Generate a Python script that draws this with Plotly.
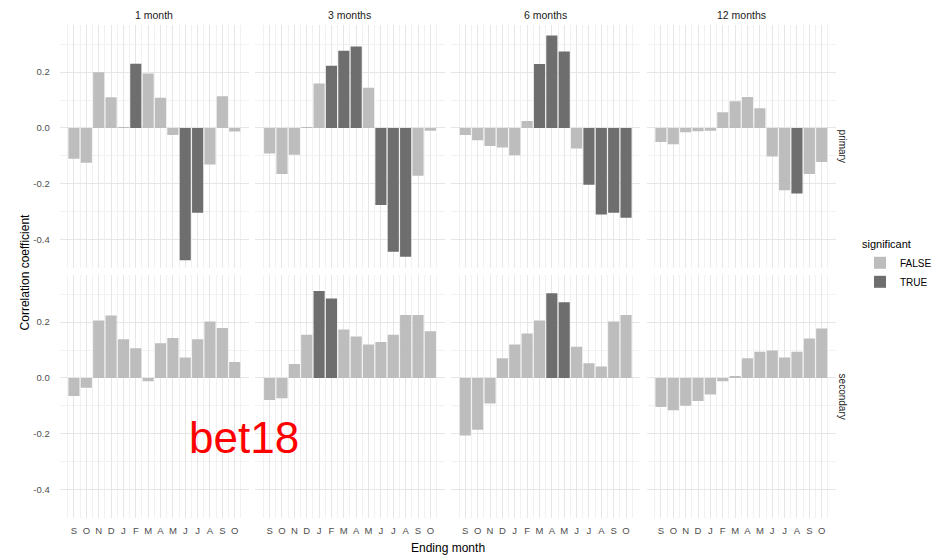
import plotly.graph_objects as go
from plotly.subplots import make_subplots

# Ending month of each correlation window (Sep .. Oct of the following year)
months = ["S", "O", "N", "D", "J", "F", "M", "A", "M", "J", "J", "A", "S", "O"]
windows = ["1 month", "3 months", "6 months", "12 months"]
groups = ["primary", "secondary"]

# Correlation coefficients, primary row
primary_1m = [-0.110, -0.125, 0.200, 0.110, 0.003, 0.230, 0.195, 0.108, -0.025, -0.474, -0.304, -0.131, 0.114, -0.013]
primary_3m = [-0.092, -0.165, -0.096, 0.003, 0.159, 0.223, 0.277, 0.292, 0.144, -0.276, -0.444, -0.462, -0.171, -0.010]
primary_6m = [-0.025, -0.044, -0.065, -0.070, -0.098, 0.025, 0.229, 0.331, 0.274, -0.074, -0.204, -0.310, -0.304, -0.322]
primary_12m = [-0.050, -0.058, -0.015, -0.012, -0.010, 0.056, 0.096, 0.111, 0.071, -0.102, -0.223, -0.235, -0.165, -0.122]

# Correlation coefficients, secondary row
secondary_1m = [-0.065, -0.035, 0.206, 0.224, 0.139, 0.106, -0.012, 0.124, 0.143, 0.073, 0.139, 0.202, 0.179, 0.057]
secondary_3m = [-0.079, -0.073, 0.050, 0.155, 0.312, 0.285, 0.174, 0.149, 0.120, 0.129, 0.155, 0.226, 0.226, 0.167]
secondary_6m = [-0.206, -0.186, -0.092, 0.071, 0.120, 0.159, 0.206, 0.304, 0.271, 0.112, 0.053, 0.041, 0.202, 0.226]
secondary_12m = [-0.104, -0.116, -0.100, -0.083, -0.059, -0.012, 0.006, 0.071, 0.094, 0.098, 0.073, 0.094, 0.141, 0.177]

# Significance flags (1 = significant)
sig_primary_1m = [0, 0, 0, 0, 0, 1, 0, 0, 0, 1, 1, 0, 0, 0]
sig_primary_3m = [0, 0, 0, 0, 0, 1, 1, 1, 0, 1, 1, 1, 0, 0]
sig_primary_6m = [0, 0, 0, 0, 0, 0, 1, 1, 1, 0, 1, 1, 1, 1]
sig_primary_12m = [0, 0, 0, 0, 0, 0, 0, 0, 0, 0, 0, 1, 0, 0]
sig_secondary_1m = [0, 0, 0, 0, 0, 0, 0, 0, 0, 0, 0, 0, 0, 0]
sig_secondary_3m = [0, 0, 0, 0, 1, 1, 0, 0, 0, 0, 0, 0, 0, 0]
sig_secondary_6m = [0, 0, 0, 0, 0, 0, 0, 1, 1, 0, 0, 0, 0, 0]
sig_secondary_12m = [0, 0, 0, 0, 0, 0, 0, 0, 0, 0, 0, 0, 0, 0]

y_ticks = [-0.4, -0.2, 0.0, 0.2]
y_tick_text = ["-0.4", "-0.2", "0.0", "0.2"]

values = [[primary_1m, primary_3m, primary_6m, primary_12m],
          [secondary_1m, secondary_3m, secondary_6m, secondary_12m]]
flags = [[sig_primary_1m, sig_primary_3m, sig_primary_6m, sig_primary_12m],
         [sig_secondary_1m, sig_secondary_3m, sig_secondary_6m, sig_secondary_12m]]

W, H = 937, 559
FONT = "Liberation Sans, Arial, sans-serif"
FILL = {False: "#BDBDBD", True: "#6E6E6E"}
panel_left = [60 + i * 196.5 for i in range(4)]
panel_w = 190
row_top = [25, 275]
panel_h = 243
x_range = [-1.15, len(months) - 1 + 1.15]
y_range = [-0.502, 0.369]

fig = make_subplots(rows=2, cols=4)

shown = set()
for r in range(2):
    for c in range(4):
        vals = values[r][c]
        sig = flags[r][c]
        for flag in (False, True):
            idx = [i for i in range(len(months)) if bool(sig[i]) == flag]
            name = "TRUE" if flag else "FALSE"
            fig.add_trace(
                go.Bar(
                    x=idx,
                    y=[vals[i] for i in idx],
                    width=0.9,
                    marker=dict(color=FILL[flag], line=dict(width=0)),
                    name=name,
                    legendgroup=name,
                    showlegend=name not in shown and len(idx) > 0,
                    hoverinfo="skip",
                ),
                row=r + 1, col=c + 1,
            )
            if len(idx) > 0:
                shown.add(name)

tick_font = dict(family=FONT, size=9.5, color="#4D4D4D")
for r in range(2):
    for c in range(4):
        k = r * 4 + c + 1
        sfx = "" if k == 1 else str(k)
        x0 = panel_left[c] / W
        x1 = (panel_left[c] + panel_w) / W
        y1 = 1 - row_top[r] / H
        y0 = 1 - (row_top[r] + panel_h) / H
        fig.layout["xaxis" + sfx].update(
            domain=[x0, x1], range=x_range,
            tickmode="array", tickvals=list(range(len(months))), ticktext=months,
            showticklabels=(r == 1), tickfont=tick_font, ticks="",
            ticklabelstandoff=5,
            showgrid=True, gridcolor="#E6E6E6", gridwidth=1,
            minor=dict(tickmode="array",
                       tickvals=[i + 0.5 for i in range(-1, len(months))],
                       showgrid=True, gridcolor="#F1F1F1", gridwidth=1, ticks=""),
            zeroline=False, showline=False, fixedrange=True,
        )
        fig.layout["yaxis" + sfx].update(
            domain=[y0, y1], range=y_range,
            tickmode="array", tickvals=y_ticks, ticktext=y_tick_text,
            showticklabels=(c == 0), tickfont=tick_font, ticks="",
            ticklabelstandoff=9,
            showgrid=True, gridcolor="#E6E6E6", gridwidth=1,
            minor=dict(tickmode="array", tickvals=[-0.5, -0.3, -0.1, 0.1, 0.3],
                       showgrid=True, gridcolor="#F1F1F1", gridwidth=1, ticks=""),
            zeroline=False, showline=False, fixedrange=True,
        )

annotations = []
# facet titles across the top
for c, label in enumerate(windows):
    annotations.append(dict(
        text=label, x=(panel_left[c] + panel_w / 2) / W, y=1 - 15 / H,
        xref="paper", yref="paper", xanchor="center", yanchor="middle",
        showarrow=False, font=dict(family=FONT, size=10.5, color="#1A1A1A"),
    ))
# facet titles on the right
for r, label in enumerate(groups):
    annotations.append(dict(
        text=label, x=(panel_left[3] + panel_w + 7) / W,
        y=1 - (row_top[r] + panel_h / 2) / H,
        xref="paper", yref="paper", xanchor="center", yanchor="middle",
        textangle=90, showarrow=False,
        font=dict(family=FONT, size=10, color="#1A1A1A"),
    ))
# axis titles
annotations.append(dict(
    text="Ending month", x=(panel_left[0] + panel_left[3] + panel_w) / 2 / W, y=1 - 548 / H,
    xref="paper", yref="paper", xanchor="center", yanchor="middle",
    showarrow=False, font=dict(family=FONT, size=12, color="#000000"),
))
annotations.append(dict(
    text="Correlation coefficient", x=25 / W, y=1 - (row_top[0] + row_top[1] + panel_h) / 2 / H,
    xref="paper", yref="paper", xanchor="center", yanchor="middle",
    textangle=-90, showarrow=False, font=dict(family=FONT, size=12, color="#000000"),
))
# watermark
annotations.append(dict(
    text="bet18", x=245 / W, y=1 - 437 / H,
    xref="paper", yref="paper", xanchor="center", yanchor="middle",
    showarrow=False, font=dict(family=FONT, size=44, color="#FF0000"),
))

fig.update_layout(
    width=W, height=H,
    margin=dict(l=0, r=0, t=0, b=0),
    paper_bgcolor="white", plot_bgcolor="white",
    barmode="overlay",
    annotations=annotations,
    legend=dict(
        title=dict(text="significant", font=dict(family=FONT, size=11, color="#000000")),
        font=dict(family=FONT, size=10, color="#000000"),
        x=864 / W, y=1 - 234 / H, xanchor="left", yanchor="top",
        bgcolor="rgba(0,0,0,0)", itemwidth=30, tracegroupgap=0,
    ),
)

fig.write_html("out.html")
